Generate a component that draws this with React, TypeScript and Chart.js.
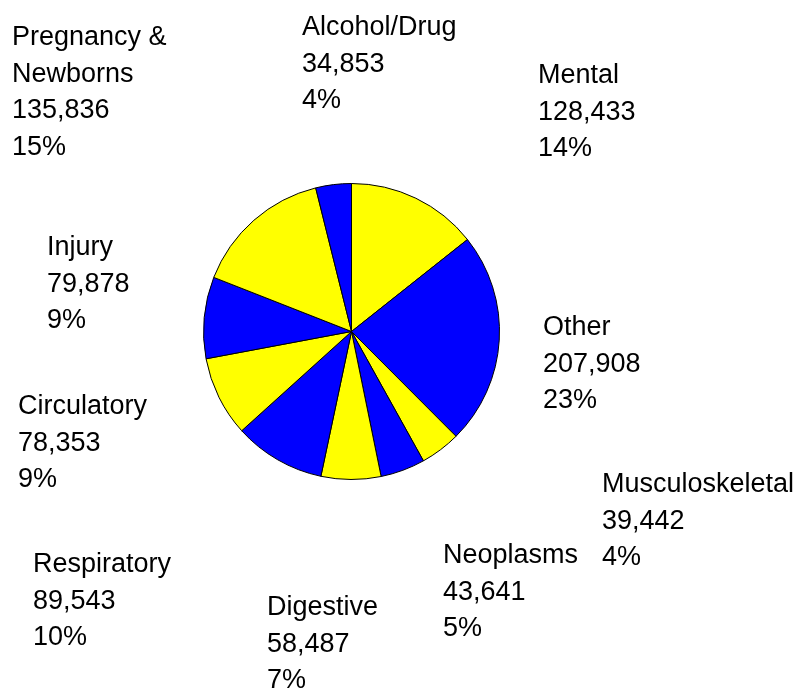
import React, { useEffect, useRef } from "react";
import { Chart, registerables } from "chart.js";

Chart.register(...registerables);

const categories = [
  "Mental",
  "Other",
  "Musculoskeletal",
  "Neoplasms",
  "Digestive",
  "Respiratory",
  "Circulatory",
  "Injury",
  "Pregnancy &\nNewborns",
  "Alcohol/Drug",
];
const values = [128433, 207908, 39442, 43641, 58487, 89543, 78353, 79878, 135836, 34853];
const sliceColors = ["#FFFF00", "#0000FF"];

// label text block anchors (first baseline), relative to pie centre, px
const labelOffsets: [number, number][] = [
  [186.5, -248.5],
  [191.5, 3.5],
  [250.5, 160.5],
  [91.5, 231.5],
  [-84.5, 283.5],
  [-318.5, 240.5],
  [-333.5, 82.5],
  [-304.5, -76.5],
  [-339.5, -286.5],
  [-49.5, -296.5],
];

const W = 809;
const H = 691;

const labelPlugin = {
  id: "outsideLabels",
  afterDatasetsDraw(chart: any) {
    const ctx = chart.ctx;
    const meta = chart.getDatasetMeta(0);
    const data = chart.data.datasets[0].data as number[];
    const total = data.reduce((a, b) => a + b, 0);
    ctx.save();
    ctx.fillStyle = "#000";
    ctx.font = "27px 'Liberation Sans', Arial, sans-serif";
    ctx.textAlign = "left";
    ctx.textBaseline = "alphabetic";
    meta.data.forEach((arc: any, i: number) => {
      const cx = arc.x;
      const cy = arc.y;
      const [dx, dy] = labelOffsets[i];
      const lines = [
        ...String(chart.data.labels[i]).split("\n"),
        data[i].toLocaleString("en-US"),
        Math.round((data[i] / total) * 100) + "%",
      ];
      lines.forEach((ln, k) => {
        ctx.fillText(ln, cx + dx, cy + dy + k * 36.6);
      });
    });
    ctx.restore();
  },
};

export default function App() {
  const ref = useRef<HTMLCanvasElement | null>(null);
  useEffect(() => {
    if (!ref.current) return;
    const chart = new Chart(ref.current, {
      type: "pie",
      data: {
        labels: categories,
        datasets: [
          {
            data: values,
            backgroundColor: values.map((_, i) => sliceColors[i % 2]),
            borderColor: "#000000",
            borderWidth: 1,
          },
        ],
      },
      options: {
        animation: false,
        responsive: false,
        maintainAspectRatio: false,
        layout: { padding: { left: 203, right: 309, top: 183, bottom: 211 } },
        plugins: {
          legend: { display: false },
          tooltip: { enabled: false },
        },
      },
      plugins: [labelPlugin],
    });
    return () => chart.destroy();
  }, []);
  return (
    <div style={{ position: "fixed", left: 0, top: 0, width: W, height: H, background: "#fff" }}>
      <canvas ref={ref} width={W} height={H} style={{ width: W, height: H, display: "block" }} />
    </div>
  );
}
